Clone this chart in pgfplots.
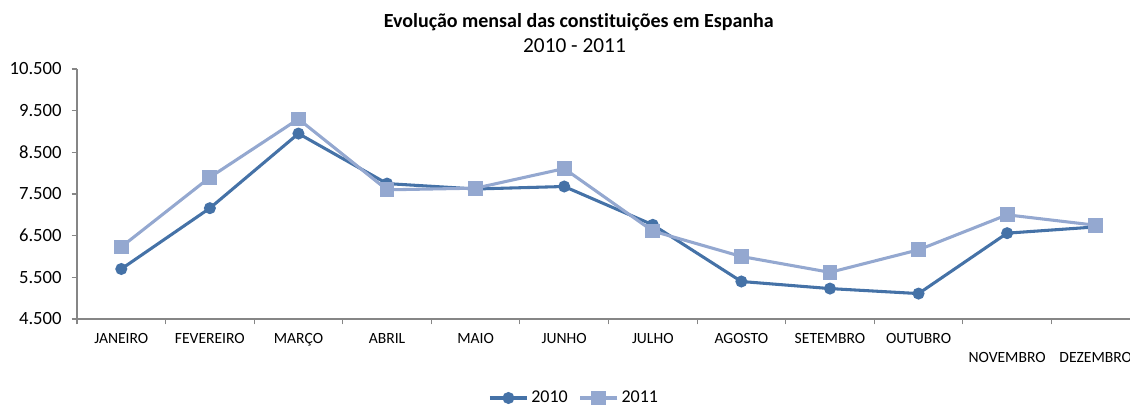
\documentclass[border=0pt]{standalone}
\usepackage{pgfplots}
\pgfplotsset{compat=1.18}
\usepackage{fontspec}
\setmainfont{Carlito}[Ligatures=NoCommon]
\definecolor{c2010}{RGB}{69,114,167}
\definecolor{c2011}{RGB}{148,168,208}
\definecolor{axgray}{RGB}{134,134,134}
\begin{document}
\begin{tikzpicture}
\begin{axis}[
  at={(57.75pt,65.25pt)}, anchor=south west,
  scale only axis, width=797.25pt, height=187.5pt,
  xmin=0.5, xmax=12.5, ymin=4500, ymax=10500,
  axis x line=bottom, axis y line=left,
  axis line style={axgray, line width=0.8pt, -},
  xtick={1,...,12},
  xticklabels={JANEIRO,FEVEREIRO,MARÇO,ABRIL,MAIO,JUNHO,JULHO,AGOSTO,SETEMBRO,OUTUBRO,{\vphantom{X}\\NOVEMBRO},{\vphantom{X}\\DEZEMBRO}},
  major x tick style={draw=none},
  minor xtick={0.5,1.5,...,12.5},
  minor x tick style={axgray, line width=0.8pt},
  minor tick length=4pt,
  xtick align=outside,
  ytick={4500,5500,...,10500},
  ytick align=outside,
  major y tick style={axgray, line width=0.8pt},
  major tick length=4pt,
  xticklabel style={font=\fontsize{11.7}{14.3}\selectfont, align=center, yshift=-3.5pt},
  yticklabel style={font=\fontsize{14}{16}\selectfont, xshift=-4pt},
  /pgf/number format/.cd, 1000 sep={.}, assume math mode=true, /pgfplots/.cd,
  scaled y ticks=false,
  clip=false,
  legend style={at={(0.468,-0.316)}, anchor=center, draw=none, font=\fontsize{13.5}{15}\selectfont, legend columns=-1, /tikz/every even column/.append style={column sep=6pt}},
  legend image code/.code={\draw[#1] (0pt,0pt) -- (14pt,0pt) (28pt,0pt) -- (0pt,0pt) plot coordinates {(14pt,0pt)};},
]
\addplot[c2010, line width=2.3pt, mark=*, mark size=3.3pt, mark options={solid}] coordinates {
(1,5700) (2,7160) (3,8950) (4,7750) (5,7620) (6,7680) (7,6760) (8,5400) (9,5230) (10,5110) (11,6560) (12,6710)};
\addlegendentry{2010}
\addplot[c2011, line width=2.3pt, mark=square*, mark size=4.4pt, mark options={solid}] coordinates {
(1,6230) (2,7900) (3,9300) (4,7600) (5,7640) (6,8110) (7,6610) (8,6000) (9,5620) (10,6160) (11,7000) (12,6750)};
\addlegendentry{2011}
\node[font=\bfseries\fontsize{15}{17}\selectfont] at (rel axis cs:0.472,1.186) {Evolução mensal das constituições em Espanha};
\node[font=\fontsize{16}{18}\selectfont] at (rel axis cs:0.468,1.094) {2010 - 2011};
\end{axis}
\pgfresetboundingbox
\path (0,0) rectangle (847.5pt,304.5pt);
\end{tikzpicture}
\end{document}
